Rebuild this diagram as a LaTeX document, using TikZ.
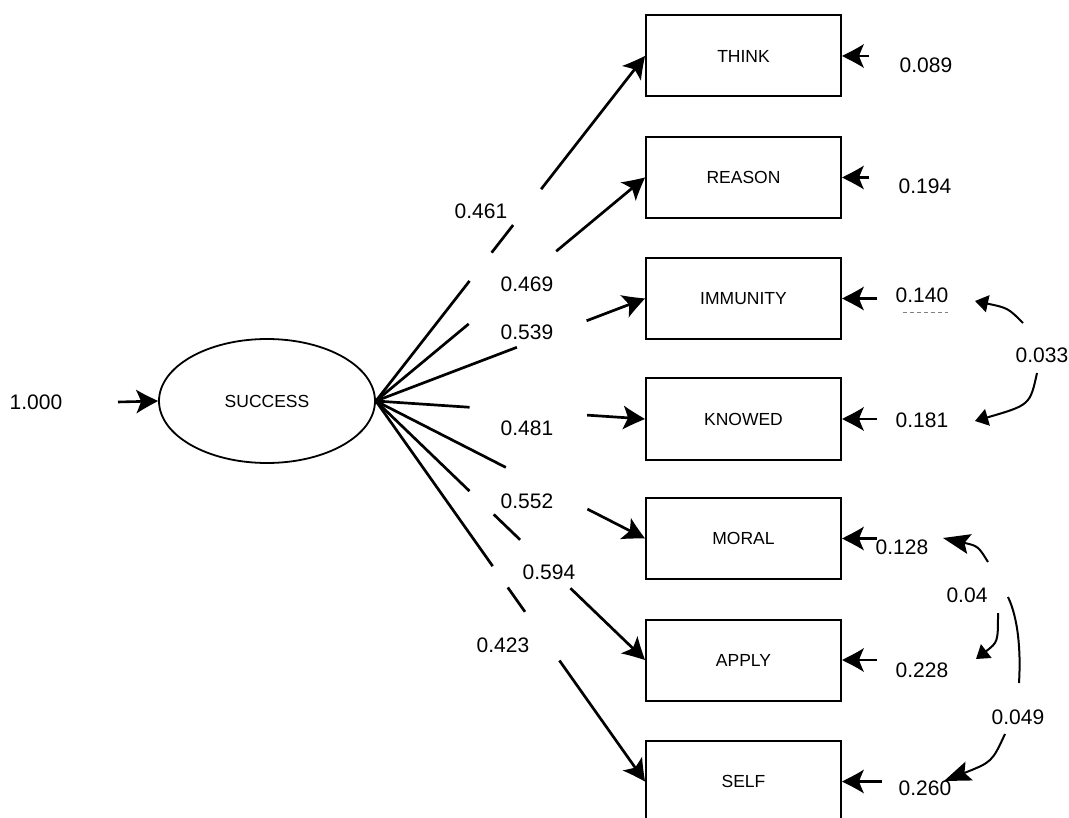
\documentclass[tikz,border=0pt]{standalone}
\usepackage{fontspec}
\setmainfont{Liberation Sans}
\usetikzlibrary{arrows.meta,shapes.geometric,calc}

% barbed arrow head with slightly hollow sides
\pgfdeclarearrow{
  name = SemHead,
  setup code = {
    \pgfarrowssettipend{0pt}
    \pgfarrowssetbackend{-22pt}
    \pgfarrowssetvisualbackend{-17pt}
    \pgfarrowssetlineend{-15pt}
    \pgfarrowshullpoint{0pt}{0pt}
    \pgfarrowsupperhullpoint{-22pt}{12pt}
    \pgfarrowshullpoint{-17pt}{0pt}
  },
  drawing code = {
    \pgfpathmoveto{\pgfqpoint{0pt}{0pt}}
    \pgfpathcurveto{\pgfqpoint{-7pt}{3.5pt}}{\pgfqpoint{-15pt}{7.5pt}}{\pgfqpoint{-22pt}{12pt}}
    \pgfpathcurveto{\pgfqpoint{-19.5pt}{6.5pt}}{\pgfqpoint{-18pt}{2.5pt}}{\pgfqpoint{-17pt}{0pt}}
    \pgfpathcurveto{\pgfqpoint{-18pt}{-2.5pt}}{\pgfqpoint{-19.5pt}{-6.5pt}}{\pgfqpoint{-22pt}{-12pt}}
    \pgfpathcurveto{\pgfqpoint{-15pt}{-7.5pt}}{\pgfqpoint{-7pt}{-3.5pt}}{\pgfqpoint{0pt}{0pt}}
    \pgfpathclose
    \pgfusepathqfill
  }
}

\begin{document}
\begin{tikzpicture}[x=1pt,y=-1pt,
  obs/.style={draw,line width=2pt,minimum width=195pt,minimum height=81pt,
    inner sep=0pt,font=\fontsize{17.5}{20}\selectfont},
  lat/.style={draw,ellipse,line width=1.8pt,minimum width=216pt,minimum height=124pt,
    inner sep=0pt,font=\fontsize{17.5}{20}\selectfont},
  coef/.style={font=\fontsize{21}{24}\selectfont,inner sep=1pt},
  load/.style={line width=2.7pt},
  loadtip/.style={-SemHead},
  err/.style={line width=2.6pt,-SemHead},
  cov/.style={line width=2pt,-{Triangle[length=13pt,width=17pt]}},
  covbig/.style={line width=2pt,-{Stealth[length=27pt,width=20pt,inset=5pt]}}
]
\useasboundingbox (0,0) rectangle (1069,818);
\clip (0,0) rectangle (1069,818);
\fill[white] (0,0) rectangle (1069,818);

% latent factor and its fixed variance
\node[lat] (succ) at (267,401) {SUCCESS};
\node[coef] (var) at (36,402) {1.000};
\coordinate (vin) at (118,402);
\draw[line width=2.6pt,-SemHead] (vin) -- (succ.west);

% observed indicators
\node[obs] (think)  at (743.5,56)    {THINK};
\node[obs] (reason) at (743.5,177.5) {REASON};
\node[obs] (immun)  at (743.5,298.5) {IMMUNITY};
\node[obs] (knowed) at (743.5,419)   {KNOWED};
\node[obs] (moral)  at (743.5,538.5) {MORAL};
\node[obs] (apply)  at (743.5,660)   {APPLY};
\node[obs] (self)   at (743.5,781.5) {SELF};

% factor loadings (broken lines)
\draw[load] (succ.east) -- ($(succ.east)!0.348!(think.west)$);
\draw[load] ($(succ.east)!0.43!(think.west)$) -- ($(succ.east)!0.51!(think.west)$);
\draw[load,loadtip] ($(succ.east)!0.614!(think.west)$) -- (think.west);

\draw[load] (succ.east) -- ($(succ.east)!0.345!(reason.west)$);
\draw[load,loadtip] ($(succ.east)!0.67!(reason.west)$) -- (reason.west);

\draw[load] (succ.east) -- ($(succ.east)!0.524!(immun.west)$);
\draw[load,loadtip] ($(succ.east)!0.783!(immun.west)$) -- (immun.west);

\draw[load] (succ.east) -- ($(succ.east)!0.348!(knowed.west)$);
\draw[load,loadtip] ($(succ.east)!0.785!(knowed.west)$) -- (knowed.west);

\draw[load] (succ.east) -- ($(succ.east)!0.483!(moral.west)$);
\draw[load,loadtip] ($(succ.east)!0.786!(moral.west)$) -- (moral.west);

\draw[load] (succ.east) -- ($(succ.east)!0.348!(apply.west)$);
\draw[load] ($(succ.east)!0.438!(apply.west)$) -- ($(succ.east)!0.536!(apply.west)$);
\draw[load,loadtip] ($(succ.east)!0.723!(apply.west)$) -- (apply.west);

\draw[load] (succ.east) -- ($(succ.east)!0.434!(self.west)$);
\draw[load] ($(succ.east)!0.49!(self.west)$) -- ($(succ.east)!0.554!(self.west)$);
\draw[load,loadtip] ($(succ.east)!0.682!(self.west)$) -- (self.west);

% loading values
\node[coef] (l1) at (481,211) {0.461};
\node[coef] (l2) at (527,284) {0.469};
\node[coef] (l3) at (527,332) {0.539};
\node[coef] (l4) at (527,428) {0.481};
\node[coef] (l5) at (527,501) {0.552};
\node[coef] (l6) at (549,572) {0.594};
\node[coef] (l7) at (503,645) {0.423};

% error terms
\coordinate (e1) at (869,56);
\coordinate (e2) at (869,177.5);
\coordinate (e3) at (877,298.5);
\coordinate (e4) at (877,419);
\coordinate (e5) at (877,538.5);
\coordinate (e6) at (877,660);
\coordinate (e7) at (882,781.5);
\draw[err] (e1) -- (think.east);
\draw[err] (e2) -- (reason.east);
\draw[err] (e3) -- (immun.east);
\draw[err] (e4) -- (knowed.east);
\draw[err] (e5) -- (moral.east);
\draw[err] (e6) -- (apply.east);
\draw[err] (e7) -- (self.east);

\node[coef] (v1) at (926,65)  {0.089};
\node[coef] (v2) at (925,186) {0.194};
\node[coef] (v3) at (922,295) {0.140};
\node[coef] (v4) at (922,420) {0.181};
\node[coef] (v5) at (902,547) {0.128};
\node[coef] (v6) at (922,670) {0.228};
\node[coef] (v7) at (925,788) {0.260};
\draw[gray,line width=1pt,dash pattern=on 4pt off 3pt] (903,313) -- (948,313);

% error covariances
\node[coef] (c1) at (1042,355) {0.033};
\coordinate (c1s) at (1023,323);
\coordinate (c1t) at (975,301);
\coordinate (c1u) at (1037,373);
\coordinate (c1v) at (975,421);
\draw[cov] (c1s) .. controls (1008,308) .. (c1t);
\draw[cov] (c1u) .. controls (1030,405) .. (c1v);

\node[coef] (c2) at (967,595) {0.04};
\coordinate (c2s) at (988,562);
\coordinate (c2t) at (943,538);
\coordinate (c2u) at (998,613);
\coordinate (c2v) at (976,659);
\draw[covbig] (c2s) .. controls (978,546) .. (c2t);
\draw[cov] (c2u) .. controls (998,642) .. (c2v);

\node[coef] (c3) at (1018,717) {0.049};
\coordinate (c3a) at (1008,597);
\coordinate (c3b) at (1019,683);
\coordinate (c3s) at (1005,734);
\coordinate (c3t) at (944,781);
\draw[line width=2pt] (c3a) .. controls (1018,618) and (1021,650) .. (c3b);
\draw[covbig] (c3s) .. controls (992,762) .. (c3t);
\end{tikzpicture}
\end{document}
